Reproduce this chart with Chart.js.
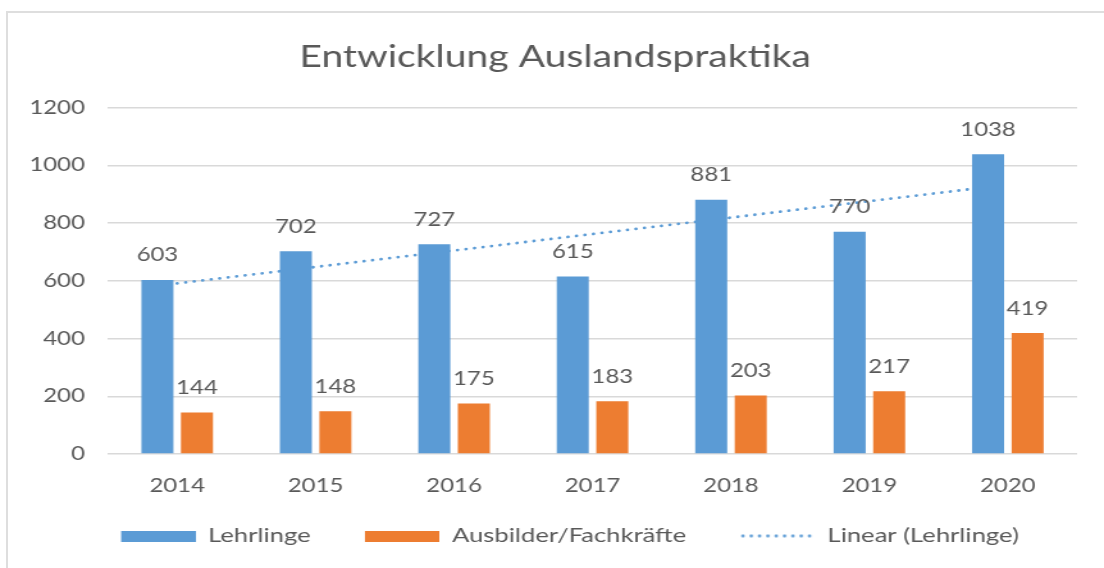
<!DOCTYPE html>
<html lang="de">
<head>
<meta charset="utf-8">
<title>Entwicklung Auslandspraktika</title>
<script src="https://cdn.jsdelivr.net/npm/chart.js@4.4.1/dist/chart.umd.min.js"></script>
<style>
    html, body { margin: 0; padding: 0; background: #fff; }
    #stage { position: relative; width: 1104px; height: 568px; overflow: hidden; }
    /* the source picture is stretched sideways, so the chart is drawn narrow and widened */
    #wrap { position: absolute; left: 0; top: 0; width: 862px; height: 568px; transform: scaleX(1.2807); transform-origin: 0 0; }
    #frame { position: absolute; left: 6px; top: 11px; width: 1130px; height: 620px; border: 2px solid #dedede; box-sizing: border-box; pointer-events: none; }
</style>
</head>
<body>
<div id="stage">
    <div id="wrap"><canvas id="chart" width="862" height="568" style="width:862px;height:568px"></canvas></div>
    <div id="frame"></div>
</div>
<script>
const years = ['2014', '2015', '2016', '2017', '2018', '2019', '2020'];
const lehrlinge = [603, 702, 727, 615, 881, 770, 1038];
const fachkraefte = [144, 148, 175, 183, 203, 217, 419];
// Excel trendline, end values
const trendLehrlinge = [591, null, null, null, null, null, 933];
const yTicks = [0, 200, 400, 600, 800, 1000, 1200];

const BLUE = '#5B9BD5';
const ORANGE = '#ED7D31';
const TEXT = '#595959';
const GRID = '#d9d9d9';
const FONT = 'Lato';
const LABEL_SIZE = 18.7;
const LEGEND_SIZE = 20;

// legend icons: transparent strip on the left gives the gap between items
const ICON_W = 81;
const ICON_GAP = 23;

function swatch(color) {
    const c = document.createElement('canvas');
    c.width = ICON_W;
    c.height = 11;
    const g = c.getContext('2d');
    g.fillStyle = color;
    g.fillRect(ICON_GAP, 0, ICON_W - ICON_GAP, 11);
    return c;
}

function dottedSwatch(color) {
    const c = document.createElement('canvas');
    c.width = ICON_W;
    c.height = 11;
    const g = c.getContext('2d');
    g.fillStyle = color;
    for (let i = 0; i < 9; i++) {
        g.beginPath();
        g.arc(ICON_GAP + 2 + i * 6.5, 5.5, 1.4, 0, Math.PI * 2);
        g.fill();
    }
    return c;
}

const legendIcons = [swatch(BLUE), swatch(ORANGE), dottedSwatch(BLUE)];

// value labels above the bars
const valueLabels = {
    id: 'valueLabels',
    afterDatasetsDraw(chart) {
        const ctx = chart.ctx;
        ctx.save();
        ctx.font = `${LABEL_SIZE}px ${FONT}`;
        ctx.fillStyle = TEXT;
        ctx.textAlign = 'center';
        ctx.textBaseline = 'middle';
        chart.data.datasets.forEach((ds, i) => {
            if (ds.type === 'line') return;
            chart.getDatasetMeta(i).data.forEach((bar, j) => {
                ctx.fillText(String(ds.data[j]), bar.x, bar.y - 24.5);
            });
        });
        ctx.restore();
    }
};

Chart.defaults.font.family = FONT;
Chart.defaults.color = TEXT;

new Chart(document.getElementById('chart'), {
    type: 'bar',
    data: {
        labels: years,
        datasets: [{
            label: 'Lehrlinge',
            data: lehrlinge,
            backgroundColor: BLUE,
            categoryPercentage: 0.571,
            barPercentage: 0.81,
            order: 1
        }, {
            label: 'Ausbilder/Fachkräfte',
            data: fachkraefte,
            backgroundColor: ORANGE,
            categoryPercentage: 0.571,
            barPercentage: 0.81,
            order: 2
        }, {
            type: 'line',
            label: 'Linear (Lehrlinge)',
            data: trendLehrlinge,
            borderColor: BLUE,
            backgroundColor: BLUE,
            borderWidth: 2.8,
            borderDash: [0.01, 6.7],
            borderCapStyle: 'round',
            pointRadius: 0,
            spanGaps: true,
            fill: false,
            order: 3
        }]
    },
    options: {
        responsive: false,
        animation: false,
        layout: {
            padding: { left: 10, right: 5, top: 0, bottom: 12 }
        },
        scales: {
            x: {
                grid: { display: false },
                border: { display: false },
                ticks: {
                    padding: 13,
                    color: TEXT,
                    font: { size: LABEL_SIZE }
                },
                afterFit: scale => { scale.height = 52.65; }
            },
            y: {
                min: 0,
                max: 1200,
                afterBuildTicks: scale => { scale.ticks = yTicks.map(v => ({ value: v })); },
                grid: { color: GRID, lineWidth: 1.5, drawTicks: false },
                border: { display: false },
                ticks: {
                    padding: 18,
                    color: TEXT,
                    font: { size: LABEL_SIZE },
                    callback: value => String(value)
                },
                afterFit: scale => { scale.width = 74.3; }
            },
            // empty spacer on the right so the title sits where the original has it
            spacer: {
                type: 'linear',
                position: 'right',
                min: 0,
                max: 1,
                grid: { display: false },
                border: { display: false },
                ticks: { display: false },
                afterFit: scale => { scale.width = 16; }
            }
        },
        plugins: {
            title: {
                display: true,
                text: 'Entwicklung Auslandspraktika',
                color: TEXT,
                font: { size: 30.5, weight: 'normal' },
                padding: { top: 38.5, bottom: 32.5 }
            },
            legend: {
                position: 'bottom',
                labels: {
                    color: TEXT,
                    font: { size: LEGEND_SIZE },
                    usePointStyle: true,
                    pointStyleWidth: ICON_W,
                    padding: 19.35,
                    generateLabels(chart) {
                        const items = Chart.defaults.plugins.legend.labels.generateLabels(chart);
                        items.forEach(item => { item.pointStyle = legendIcons[item.datasetIndex]; });
                        return items;
                    }
                }
            },
            tooltip: { enabled: false }
        }
    },
    plugins: [valueLabels]
});
</script>
</body>
</html>
